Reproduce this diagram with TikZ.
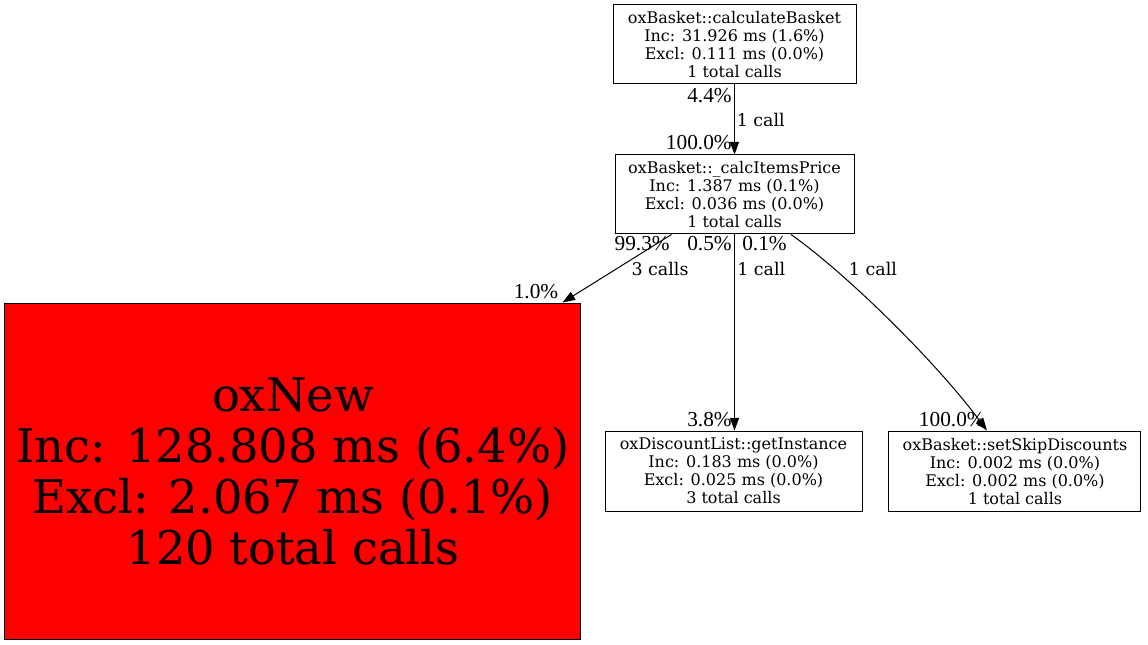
\documentclass[tikz,border=0pt]{standalone}
\usepackage{fontspec}
\setmainfont{DejaVu Serif}
\newfontfamily\edgefont{Liberation Serif}
\usetikzlibrary{shapes.geometric, arrows.meta, positioning}

\begin{document}
\begin{tikzpicture}[x=0.75pt, y=-0.75pt, node distance=112.5pt]
	\tikzstyle{func} = [rectangle, draw=black, line width=0.75pt, text centered, align=center, inner sep=2pt, minimum height=59.25pt, font=\fontsize{12}{13.5}\selectfont]
	\tikzstyle{hot} = [func, fill=red, minimum width=432pt, minimum height=252pt, font=\fontsize{34.8}{38.3}\selectfont]
	\tikzstyle{arrow} = [line width=0.75pt, -{Triangle[length=9.5pt, width=6.8pt]}]
	\tikzstyle{pct} = [inner sep=0pt, font=\edgefont\fontsize{16}{18}\selectfont]
	\tikzstyle{calls} = [inner sep=0pt, font=\fontsize{13.1}{15}\selectfont]

	\useasboundingbox (0,0) rectangle (1148,645);

	\node (basket) [func, minimum width=182.25pt] at (734.5,44.5) {oxBasket::calculateBasket\\Inc: 31.926 ms (1.6\%)\\Excl: 0.111 ms (0.0\%)\\1 total calls};
	\node (items) [func, minimum width=179.25pt, below of=basket] {oxBasket::\_calcItemsPrice\\Inc: 1.387 ms (0.1\%)\\Excl: 0.036 ms (0.0\%)\\1 total calls};
	\node (discount) [func, minimum width=192.75pt, minimum height=60pt, below of=items, xshift=-0.75pt, yshift=-94.9pt] {oxDiscountList::getInstance\\Inc: 0.183 ms (0.0\%)\\Excl: 0.025 ms (0.0\%)\\3 total calls};
	\node (oxnew) [hot, left of=discount, xshift=-217.9pt] {oxNew\\Inc: 128.808 ms (6.4\%)\\Excl: 2.067 ms (0.1\%)\\120 total calls};
	\node (skip) [func, minimum width=189pt, minimum height=60pt, right of=discount, xshift=98.6pt] {oxBasket::setSkipDiscounts\\Inc: 0.002 ms (0.0\%)\\Excl: 0.002 ms (0.0\%)\\1 total calls};

	\draw [arrow] (basket) -- (items);
	\draw [arrow] ([xshift=-47.25pt]items.south) -- ([xshift=-14.25pt]oxnew.north east);
	\draw [arrow] (items) -- (items |- discount.north);
	\draw [arrow] ([shift={(56.5,0)}]items.south) .. controls ([shift={(110.5,38)}]items.south) and ([shift={(-80,-70)}]skip.north) .. ([shift={(-28,0)}]skip.north);

	% percentages at both ends, calls in the middle
	\node (out1) [pct, anchor=east] at ([shift={(-2.5,11)}]basket.south) {4.4\%};
	\node (calls1) [calls, anchor=west] at ([shift={(2,35)}]basket.south) {1 call};
	\node (in1) [pct, anchor=east] at ([shift={(-2.5,-12)}]items.north) {100.0\%};
	\node (out2) [pct, anchor=east] at ([shift={(-64.5,9)}]items.south) {99.3\%};
	\node (out3) [pct, anchor=east] at ([shift={(-2.5,9)}]items.south) {0.5\%};
	\node (out4) [pct, anchor=west] at ([shift={(7.5,9)}]items.south) {0.1\%};
	\node (calls2) [calls] at ([shift={(-74.5,34)}]items.south) {3 calls};
	\node (calls3) [calls, anchor=west] at ([shift={(2.5,34)}]items.south) {1 call};
	\node (calls4) [calls] at ([shift={(138.5,34)}]items.south) {1 call};
	\node (in2) [pct, anchor=east] at ([shift={(-23,-11)}]oxnew.north east) {1.0\%};
	\node (in3) [pct, anchor=east] at ([shift={(-1.5,-11)}]discount.north) {3.8\%};
	\node (in4) [pct, anchor=east] at ([shift={(-30,-11)}]skip.north) {100.0\%};
\end{tikzpicture}
\end{document}
